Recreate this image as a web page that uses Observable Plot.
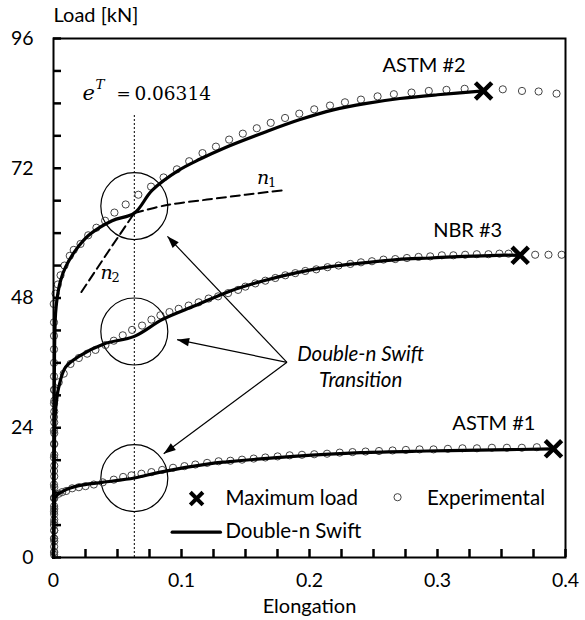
<!DOCTYPE html>
<html>
<head>
<meta charset="utf-8">
<script src="https://cdn.jsdelivr.net/npm/d3@7"></script>
<script src="https://cdn.jsdelivr.net/npm/@observablehq/plot@0.6"></script>
<style>
  html, body { margin: 0; padding: 0; background: #fff; }
  #chart svg { display: block; }
</style>
</head>
<body>
<div id="chart"></div>
<script>
// ---------------- data ----------------
const specimens = ["ASTM #1", "NBR #3", "ASTM #2"];
const transitionStrain = 0.06314;

// Double-n Swift model curves
const modelAstm1X = [0, 0.0008, 0.0016, 0.0094, 0.0198, 0.038, 0.06314, 0.0835, 0.1239, 0.1356, 0.1876, 0.2397, 0.2917, 0.3437, 0.3906];
const modelAstm1Y = [0, 9, 11.2, 12.5, 13.3, 13.9, 14.7, 15.8, 17.4, 17.7, 18.7, 19.4, 19.7, 19.9, 20.1];
const modelNbr3X = [0, 0.0008, 0.0016, 0.0041, 0.0094, 0.0198, 0.0393, 0.06314, 0.0849, 0.1109, 0.1382, 0.1642, 0.1903, 0.2162, 0.2422, 0.2683, 0.2943, 0.3203, 0.3464, 0.3646];
const modelNbr3Y = [0, 22, 27.2, 31.5, 35.2, 37.2, 39.5, 40.9, 44.0, 46.6, 49.3, 51.2, 52.7, 53.8, 54.5, 55.1, 55.4, 55.7, 55.9, 55.9];
const modelAstm2X = [0, 0.0008, 0.0016, 0.0029, 0.0055, 0.0094, 0.0172, 0.0275, 0.0458, 0.06314, 0.077, 0.0977, 0.1146, 0.134, 0.1666, 0.1926, 0.2186, 0.2446, 0.2706, 0.3, 0.336];
const modelAstm2Y = [0, 38, 45.1, 48.1, 51.2, 53.7, 56.8, 59.6, 62.3, 63.7, 67.9, 71.6, 73.7, 75.8, 78.8, 81.0, 82.8, 84.0, 84.9, 85.6, 86.3];

// Experimental points
const expAstm1X = [0.0005, 0.0005, 0.0005, 0.0005, 0.0005, 0.0005, 0.0005, 0.0005, 0.0041, 0.0068, 0.0099, 0.0146, 0.0198, 0.025, 0.0315, 0.0385, 0.0471, 0.0544, 0.0609, 0.0687, 0.0765, 0.0849, 0.0934, 0.1023, 0.1108, 0.12, 0.129, 0.1382, 0.1473, 0.1564, 0.1655, 0.1751, 0.1845, 0.1941, 0.2037, 0.2137, 0.2236, 0.2336, 0.2438, 0.2543, 0.2649, 0.2753, 0.286, 0.2969, 0.3081, 0.3195, 0.3308, 0.3425, 0.3542, 0.3659, 0.3776];
const expAstm1Y = [0.5, 2, 3.5, 5, 6.5, 8, 9.5, 11, 11.8, 12.1, 12.3, 12.8, 13.0, 13.2, 13.5, 13.9, 14.4, 14.9, 15.2, 15.5, 15.8, 16.2, 16.6, 16.9, 17.2, 17.5, 17.8, 17.9, 18.1, 18.3, 18.5, 18.7, 18.9, 19.0, 19.1, 19.2, 19.4, 19.5, 19.6, 19.7, 19.8, 19.9, 20.0, 20.0, 20.1, 20.2, 20.2, 20.3, 20.3, 20.3, 20.4];
const expNbr3X = [0.0006, 0.0006, 0.0006, 0.0006, 0.0006, 0.0006, 0.0006, 0.0006, 0.0006, 0.0006, 0.0006, 0.0006, 0.0006, 0.0006, 0.0006, 0.0006, 0.0041, 0.008, 0.0133, 0.0198, 0.0263, 0.0328, 0.0406, 0.0471, 0.0541, 0.0614, 0.0692, 0.0765, 0.0835, 0.0906, 0.0978, 0.1056, 0.1134, 0.1212, 0.1286, 0.1364, 0.1442, 0.1499, 0.1577, 0.1655, 0.1733, 0.1811, 0.1889, 0.1967, 0.2053, 0.2141, 0.2227, 0.2319, 0.2402, 0.2488, 0.2578, 0.267, 0.2761, 0.2852, 0.2943, 0.3034, 0.3124, 0.3216, 0.3307, 0.3398, 0.3484, 0.3555, 0.3763, 0.3867, 0.397];
const expNbr3Y = [1, 3, 5, 7, 9, 11, 13, 15, 17, 19, 21, 23, 25, 27, 29, 31, 32.4, 34.0, 35.8, 36.9, 37.7, 38.4, 39.3, 40.1, 41.1, 42.1, 42.9, 44.0, 44.8, 45.4, 46.0, 46.6, 47.2, 47.9, 48.3, 48.9, 49.5, 50.1, 50.7, 51.2, 51.7, 52.2, 52.6, 53.0, 53.3, 53.7, 54.0, 54.3, 54.6, 54.8, 55.1, 55.2, 55.4, 55.6, 55.7, 55.9, 55.9, 56.0, 56.1, 56.1, 56.2, 56.2, 56.0, 56.0, 56.0];
const expAstm2X = [0.0004, 0.0004, 0.0004, 0.0004, 0.0004, 0.0004, 0.0004, 0.0004, 0.0004, 0.0004, 0.0004, 0.0004, 0.0004, 0.0004, 0.0004, 0.0004, 0.0004, 0.0004, 0.0002, 0.0016, 0.0034, 0.0055, 0.0086, 0.0127, 0.0158, 0.0211, 0.0271, 0.0335, 0.0403, 0.0476, 0.0564, 0.0663, 0.0762, 0.086, 0.0964, 0.106, 0.1164, 0.1269, 0.1372, 0.1479, 0.1588, 0.1697, 0.1809, 0.192, 0.2037, 0.216, 0.2277, 0.2402, 0.2532, 0.2659, 0.2797, 0.2932, 0.307, 0.3212, 0.351, 0.366, 0.379, 0.393];
const expAstm2Y = [1, 3.5, 6, 8.5, 11, 13.5, 16, 18.5, 21, 23.5, 26, 28.5, 31, 33.5, 36, 38.5, 41, 43.5, 46.9, 48.8, 50.5, 52.2, 54.0, 55.8, 56.9, 58.0, 59.6, 61.0, 62.3, 63.8, 65.3, 67.1, 68.6, 70.3, 71.8, 73.3, 74.8, 76.0, 77.3, 78.4, 79.4, 80.4, 81.3, 82.1, 82.9, 83.6, 84.2, 84.7, 85.3, 85.7, 86.0, 86.3, 86.5, 86.7, 86.6, 86.3, 86.2, 85.8];

// Maximum load points and transition loads (order of specimens)
const maxLoadX = [0.3906, 0.3646, 0.336];
const maxLoadY = [20.1, 55.9, 86.3];
const transitionY = [14.7, 41.8, 65.0];

// Single-n Swift extrapolations for ASTM #2
const n1X = [0.06314, 0.0887, 0.12, 0.15, 0.1783];
const n1Y = [63.7, 65.2, 66.2, 67.1, 67.9];
const n2X = [0.0218, 0.0431, 0.06314];
const n2Y = [49.1, 56.7, 63.7];

// Axis ticks
const xTicks = [0, 0.1, 0.2, 0.3, 0.4];
const xMinorTicks = [0.025, 0.05, 0.075, 0.125, 0.15, 0.175, 0.225, 0.25, 0.275, 0.325, 0.35, 0.375];
const yTicks = [0, 24, 48, 72, 96];
const yMinorTicks = [6, 12, 18, 30, 36, 42, 54, 60, 66, 78, 84, 90];

// ---------------- tables ----------------
const modelSeries = [[modelAstm1X, modelAstm1Y], [modelNbr3X, modelNbr3Y], [modelAstm2X, modelAstm2Y]];
const expSeries = [[expAstm1X, expAstm1Y], [expNbr3X, expNbr3Y], [expAstm2X, expAstm2Y]];
const model = specimens.flatMap((s, i) => modelSeries[i][0].map((x, j) => ({specimen: s, x, y: modelSeries[i][1][j]})));
const experimental = specimens.flatMap((s, i) => expSeries[i][0].map((x, j) => ({specimen: s, x, y: expSeries[i][1][j]})));
const maxLoad = specimens.map((s, i) => ({specimen: s, x: maxLoadX[i], y: maxLoadY[i]}));
const transitions = specimens.map((s, i) => ({specimen: s, x: transitionStrain, y: transitionY[i]}));
const n1 = n1X.map((x, i) => ({x, y: n1Y[i]}));
const n2 = n2X.map((x, i) => ({x, y: n2Y[i]}));
const allXTicks = [...xTicks, ...xMinorTicks];
const allYTicks = [...yTicks, ...yMinorTicks];

// annotation arrows: from the note to each transition circle
const arrowFrom = {x: 0.1824, y: 36.1};
const arrowTo = [{x: 0.089, y: 59.4}, {x: 0.0966, y: 40.3}, {x: 0.0861, y: 19.2}];

// narrow filled arrowhead (tip at origin, pointing up)
const arrowHead = {
  draw(ctx) { ctx.moveTo(0, 0); ctx.lineTo(4.2, 12); ctx.lineTo(-4.2, 12); ctx.closePath(); }
};
const TICK = 8;

const F = "Lato";
const M = "DejaVu Serif";
const W = 585, H = 620, ML = 53, MR = 20, MT = 38, MB = 63;

function build(angles) {
  return Plot.plot({
    width: W,
    height: H,
    marginLeft: ML,
    marginRight: MR,
    marginTop: MT,
    marginBottom: MB,
    style: {fontFamily: F, fontSize: "20px"},
    x: {domain: [0, 0.4]},
    y: {domain: [0, 96]},
    marks: [
      Plot.axisX(xTicks, {tickSize: 0, tickPadding: 16, fontSize: 19.5, tickFormat: d => String(d), label: null}),
      Plot.axisY(yTicks, {tickSize: 0, tickPadding: 20, fontSize: 19.5, tickFormat: d => String(d), label: null}),
      Plot.text(["Load [kN]"], {x: 0, y: 96, dy: -23, text: d => d, textAnchor: "start", fontSize: 20}),
      Plot.text(["Elongation"], {x: 0.2, y: 0, dy: 49, text: d => d, fontSize: 20}),
      // transition marker line
      Plot.ruleX([transitionStrain], {y1: 0, y2: 81.8, stroke: "black", strokeWidth: 1, strokeDasharray: "2,2"}),
      // e^T label
      Plot.text(["e"], {x: 0.0226, y: 85.8, text: d => d, textAnchor: "start", fontFamily: M, fontStyle: "italic", fontSize: 21}),
      Plot.text(["T"], {x: 0.0226, y: 85.8, dx: 13, dy: -9, text: d => d, textAnchor: "start", fontFamily: M, fontStyle: "italic", fontSize: 13.5}),
      Plot.text(["="], {x: 0.0226, y: 85.8, dx: 34, text: d => d, textAnchor: "start", fontFamily: M, fontSize: 17}),
      Plot.text([String(transitionStrain)], {x: 0.0226, y: 85.8, dx: 52, text: d => d, textAnchor: "start", fontFamily: M, fontSize: 18.5}),
      // transition circles
      Plot.dot(transitions, {x: "x", y: "y", r: 33.5, stroke: "black", strokeWidth: 1.2, fill: "none"}),
      // experimental
      Plot.dot(experimental, {x: "x", y: "y", r: 3.6, stroke: "#444", strokeWidth: 1, fill: "none"}),
      // n1 / n2 dashed
      Plot.line(n1, {x: "x", y: "y", curve: "catmull-rom", stroke: "black", strokeWidth: 2, strokeDasharray: "9,5"}),
      Plot.line(n2, {x: "x", y: "y", stroke: "black", strokeWidth: 2, strokeDasharray: "9,5"}),
      Plot.text(["n"], {x: 0.159, y: 69.1, text: d => d, textAnchor: "start", lineAnchor: "bottom", fontFamily: M, fontStyle: "italic", fontSize: 19}),
      Plot.text(["1"], {x: 0.159, y: 69.1, dx: 11, dy: 3, text: d => d, textAnchor: "start", lineAnchor: "bottom", fontFamily: M, fontSize: 13}),
      Plot.text(["n"], {x: 0.0367, y: 51.55, text: d => d, textAnchor: "start", lineAnchor: "bottom", fontFamily: M, fontStyle: "italic", fontSize: 19}),
      Plot.text(["2"], {x: 0.0367, y: 51.55, dx: 11, dy: 3, text: d => d, textAnchor: "start", lineAnchor: "bottom", fontFamily: M, fontSize: 13}),
      // model lines
      Plot.line(model, {x: "x", y: "y", z: "specimen", curve: "catmull-rom", stroke: "black", strokeWidth: 3.2}),
      // maximum load
      Plot.dot(maxLoad, {x: "x", y: "y", symbol: "times", r: 7.5, stroke: "black", strokeWidth: 4.5}),
      Plot.text(maxLoad, {x: "x", y: "y", text: "specimen", dx: -18, dy: -25, textAnchor: "end", fontSize: 20}),
      // arrows
      Plot.link(arrowTo, {x1: arrowFrom.x, y1: arrowFrom.y, x2: "x", y2: "y", stroke: "black", strokeWidth: 1.2}),
      Plot.dot(arrowTo, {x: "x", y: "y", symbol: arrowHead, rotate: (d, i) => angles[i], fill: "black", stroke: "none"}),
      Plot.text(["Double-n Swift\nTransition"], {x: 0.24, y: 35.5, text: d => d, fontStyle: "italic", fontSize: 20.5, lineHeight: 1.3}),
      // legend
      Plot.dot([0], {x: 0.1118, y: 10.9, symbol: "times", r: 5.8, stroke: "black", strokeWidth: 4}),
      Plot.text(["Maximum load"], {x: 0.1343, y: 10.9, text: d => d, textAnchor: "start", fontSize: 20.5}),
      Plot.dot([0], {x: 0.2688, y: 11.15, r: 3.6, stroke: "#444", strokeWidth: 1, fill: "none"}),
      Plot.text(["Experimental"], {x: 0.2917, y: 10.9, text: d => d, textAnchor: "start", fontSize: 20.5}),
      Plot.line([[0.0927, 4.68], [0.1304, 4.68]], {stroke: "black", strokeWidth: 3.2}),
      Plot.text(["Double-n Swift"], {x: 0.1343, y: 4.8, text: d => d, textAnchor: "start", fontSize: 20.5}),
      Plot.frame({stroke: "black", strokeWidth: 2}),
      // inward ticks, spanning TICK pixels from the frame edge
      Plot.tickX(allXTicks, {x: d => d, insetTop: H - MT - MB - TICK, stroke: "black", strokeWidth: 2.5}),
      Plot.tickY(allYTicks, {y: d => d, insetRight: W - ML - MR - TICK, stroke: "black", strokeWidth: 2.5})
    ]
  });
}

const probe = build(arrowTo.map(() => 0));
const sx = probe.scale("x"), sy = probe.scale("y");
const angles = arrowTo.map(t => {
  const dx = sx.apply(t.x) - sx.apply(arrowFrom.x);
  const dy = sy.apply(t.y) - sy.apply(arrowFrom.y);
  return Math.atan2(dx, -dy) * 180 / Math.PI;
});
document.getElementById("chart").append(build(angles));
</script>
</body>
</html>
